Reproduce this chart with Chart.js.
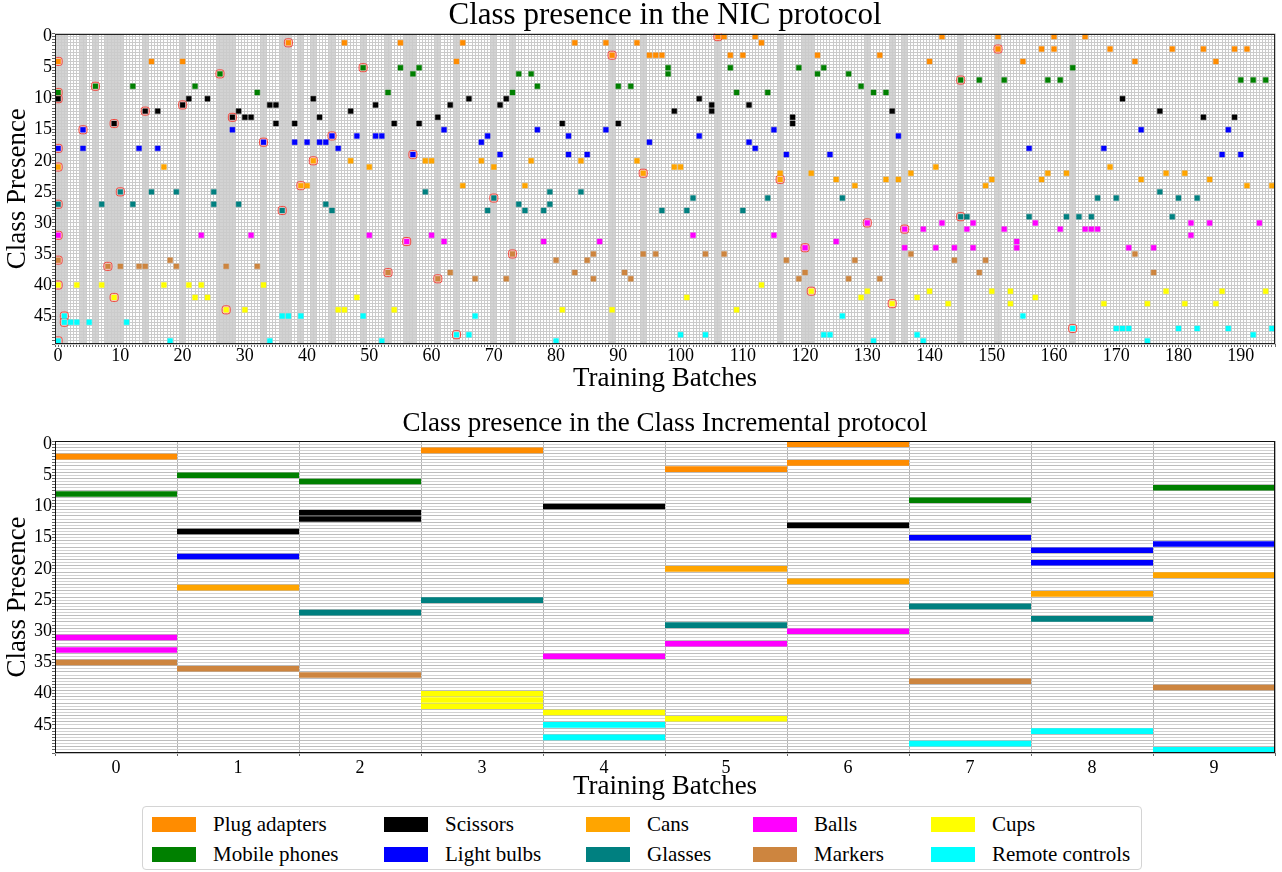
<!DOCTYPE html>
<html>
<head>
<meta charset="utf-8">
<script src="https://cdn.jsdelivr.net/npm/chart.js@4.4.1/dist/chart.umd.min.js"></script>
<style>
  html, body { margin: 0; padding: 0; background: #fff; }
  body { width: 1282px; height: 872px; position: relative; overflow: hidden;
         font-family: "Liberation Serif", "Times New Roman", serif; }
  #nicBox { position: absolute; left: 0; top: 0; width: 1282px; height: 392px; }
  #ciBox  { position: absolute; left: 0; top: 392px; width: 1282px; height: 410px; }
  #legend { position: absolute; left: 142px; top: 806px; width: 998px; height: 62px;
            border: 1px solid #d4d4d4; border-radius: 4px; box-sizing: content-box; }
  .sw  { position: absolute; width: 44px; height: 15px; }
  .lbl { position: absolute; font-size: 21px; line-height: 24px; white-space: nowrap; color: #000; }
</style>
</head>
<body>
<div id="nicBox"><canvas id="nicChart"></canvas></div>
<div id="ciBox"><canvas id="ciChart"></canvas></div>
<div id="legend"></div>
<script>
// ---------------------------------------------------------------
// data
// ---------------------------------------------------------------
const categories = ['Plug adapters', 'Mobile phones', 'Scissors', 'Light bulbs', 'Cans',
                    'Glasses', 'Balls', 'Markers', 'Cups', 'Remote controls'];

// NIC: for each class of a category (5 classes each), the batches it shows up in
const nicPlugAdapters = [
  [106,107,112,142,151,160,165],
  [37,46,55,65,83,88,93,113],
  [151,158,160,169,179,184,189,191],
  [89,95,96,97,108,110,122,132],
  [0,15,20,64,140,155,173,186]
];
const nicMobilePhones = [
  [49,55,58,98,108,119,123,163],
  [26,57,74,76,98,122,127],
  [145,148,152,159,161,190,192,194],
  [6,12,22,77,90,92,129],
  [0,32,53,73,109,114,131,133]
];
const nicScissors = [
  [0,21,24,41,66,72,103,171],
  [20,34,35,51,63,71,105,111],
  [14,16,29,47,99,105,134,177],
  [28,30,31,42,61,118,184,189],
  [9,35,38,54,58,81,90,118]
];
const nicLightBulbs = [
  [4,28,62,77,88,115,174,188],
  [44,48,51,52,69,82,103,135],
  [33,38,40,42,43,68,95,111],
  [0,4,13,16,45,112,156,168],
  [57,71,82,85,117,124,187,190]
];
const nicCans = [
  [41,47,59,60,68,76,84,93],
  [0,17,50,70,99,100,141,169],
  [94,116,121,137,159,162,178,181],
  [116,125,133,135,150,158,174,185],
  [39,40,65,75,128,149,191,195]
];
const nicGlasses = [
  [10,15,19,25,59,79,84,177],
  [70,102,114,126,167,170,180,183],
  [0,7,12,25,29,43,74,79],
  [36,44,69,75,78,97,101,110],
  [145,146,156,162,164,166,179]
];
const nicBalls = [
  [130,142,147,157,182,185,193],
  [136,139,146,152,161,165,166,167],
  [0,23,31,50,60,102,115,182],
  [56,62,78,87,125,154],
  [120,136,141,144,147,154,172,176]
];
const nicMarkers = [
  [73,86,94,96,104,107,137,173],
  [0,18,80,85,117,128,144,149],
  [8,10,13,14,19,27,32],
  [53,63,83,91,120,148,176],
  [61,67,72,86,92,119,127,132]
];
const nicCups = [
  [0,3,7,17,21,23,33,113],
  [121,130,140,150,153,178,187,194],
  [9,22,24,48,101,129,138,157],
  [134,143,153,168,175,181,186],
  [27,30,45,46,54,81,89,109]
];
const nicRemoteControls = [
  [1,36,37,39,49,67,126,155],
  [1,2,3,5,11],
  [163,170,171,172,180,183,188,195],
  [64,66,100,104,123,124,138,192],
  [0,18,34,52,80,131,139,175]
];

// Class Incremental: classes present in each of the 10 batches
const ciBatchClasses = [
  [2,8,31,33,35],
  [5,14,18,23,36],
  [6,11,12,27,37],
  [1,25,40,41,42],
  [10,34,43,45,47],
  [4,20,29,32,44],
  [0,3,13,22,30],
  [9,15,26,38,48],
  [17,19,24,28,46],
  [7,16,21,39,49]
];

// tick labels
const nicXTicks  = [0,10,20,30,40,50,60,70,80,90,100,110,120,130,140,150,160,170,180,190];
const ciXTicks   = [0,1,2,3,4,5,6,7,8,9];
const classTicks = [0,5,10,15,20,25,30,35,40,45];

// styles
const colors = ['#ff8c00','#008000','#000000','#0000ff','#ffa500',
                '#008080','#ff00ff','#cd853f','#ffff00','#00ffff'];

// ---------------------------------------------------------------
// helpers
// ---------------------------------------------------------------
Chart.defaults.font.family = '"Liberation Serif", "Times New Roman", serif';
Chart.defaults.color = '#000';

// grid every half unit (cell borders + centres)
function halfSteps(min, max){
  const t = [];
  for (let v = min; v <= max + 1e-9; v += 0.5) t.push({ value: v });
  return t;
}

// light grey columns behind the grid
const bandPlugin = {
  id: 'bands',
  beforeDraw(chart, args, opts){
    if (!opts || !opts.columns) return;
    const { ctx, chartArea: a, scales: { x } } = chart;
    ctx.save();
    ctx.fillStyle = opts.color;
    opts.columns.forEach(c => {
      const l = x.getPixelForValue(c - 0.5);
      const r = x.getPixelForValue(c + 0.5);
      ctx.fillRect(l, a.top, r - l, a.bottom - a.top);
    });
    ctx.restore();
  }
};

// axes box on all four sides
const framePlugin = {
  id: 'frame',
  afterDraw(chart, args, opts){
    const { ctx, chartArea: a } = chart;
    ctx.save();
    ctx.strokeStyle = opts.color || '#000';
    ctx.lineWidth = 1;
    const l = Math.round(a.left) + 0.5, t = Math.round(a.top) + 0.5;
    const r = Math.round(a.right) - 0.5, b = Math.round(a.bottom) - 0.5;
    ctx.strokeRect(l, t, r - l, b - t);
    ctx.restore();
  }
};

const tickFont  = { size: 18, lineHeight: 1 };
const titleFont = { size: 27, lineHeight: 1 };

// ---------------------------------------------------------------
// NIC chart
// ---------------------------------------------------------------
const nicByCategory = [nicPlugAdapters, nicMobilePhones, nicScissors, nicLightBulbs, nicCans,
                       nicGlasses, nicBalls, nicMarkers, nicCups, nicRemoteControls];

const nicDatasets = nicByCategory.map((classes, k) => ({
  label: categories[k],
  data: classes.flatMap((batches, j) => batches.map(b => ({ x: b, y: 5 * k + j }))),
  pointStyle: 'rect',
  pointRadius: 3.5,
  pointBorderWidth: 0.8,
  pointBackgroundColor: colors[k],
  pointBorderColor: colors[k] + '88',
  order: 0
}));

// first time each class appears -> red box, and its batch gets a grey band
const firstSeen = [];
nicByCategory.forEach((classes, k) => classes.forEach((batches, j) => {
  firstSeen.push({ x: Math.min(...batches), y: 5 * k + j });
}));
const newBatches = [...new Set(firstSeen.map(p => p.x))];

nicDatasets.push({
  label: 'new',
  data: firstSeen,
  pointStyle: 'rectRounded',
  pointRadius: 4.7,
  pointBorderWidth: 0.9,
  pointBackgroundColor: 'rgba(255,215,215,0.75)',
  pointBorderColor: '#f03a30',
  order: 1
});

new Chart(document.getElementById('nicChart'), {
  type: 'scatter',
  data: { datasets: nicDatasets },
  plugins: [bandPlugin, framePlugin],
  options: {
    responsive: true,
    maintainAspectRatio: false,
    animation: false,
    events: [],
    layout: { padding: { left: 0, right: 7, top: 0, bottom: 0 } },
    plugins: {
      legend: { display: false },
      tooltip: { enabled: false },
      title: {
        display: true,
        fullSize: false,
        text: 'Class presence in the NIC protocol',
        color: '#000',
        font: { size: 31, weight: 'normal', lineHeight: 1 },
        padding: { top: 0, bottom: 2.5 }
      },
      bands: { columns: newBatches, color: '#d3d3d3' },
      frame: { color: '#222' }
    },
    scales: {
      x: {
        type: 'linear',
        min: -0.5, max: 195.5,
        afterBuildTicks: s => { s.ticks = halfSteps(-0.5, 195.5); },
        afterFit: s => { s.height = 48; },
        ticks: {
          autoSkip: false, maxRotation: 0, minRotation: 0, padding: 0, font: tickFont,
          callback: v => nicXTicks.includes(v) ? String(v) : ''
        },
        grid: { color: '#cbcbcb', tickColor: '#666', tickLength: 3 },
        border: { display: false },
        title: { display: true, text: 'Training Batches', font: titleFont, padding: { top: 0, bottom: 0 } }
      },
      y: {
        type: 'linear',
        reverse: true,
        min: -0.5, max: 49.5,
        afterBuildTicks: s => { s.ticks = halfSteps(-0.5, 49.5); },
        afterFit: s => { s.width = 55; },
        ticks: {
          autoSkip: false, padding: 0, font: tickFont,
          callback: v => classTicks.includes(v) ? String(v) : ''
        },
        grid: { color: '#cbcbcb', tickColor: '#666', tickLength: 3 },
        border: { display: false },
        title: { display: true, text: 'Class Presence', font: titleFont, padding: { top: 4.5, bottom: 0 } }
      }
    }
  }
});

// ---------------------------------------------------------------
// Class Incremental chart
// ---------------------------------------------------------------
const ciDatasets = categories.map((name, k) => {
  const data = [];
  ciBatchClasses.forEach((classes, b) => {
    classes.filter(c => Math.floor(c / 5) === k).forEach(c => {
      data.push({ x: b - 0.5, y: c }, { x: b + 0.5, y: c }, { x: b + 0.5, y: null });
    });
  });
  return {
    label: name,
    data,
    borderColor: colors[k],
    borderWidth: 5.6,
    borderCapStyle: 'butt',
    pointRadius: 0,
    spanGaps: false,
    tension: 0
  };
});

new Chart(document.getElementById('ciChart'), {
  type: 'line',
  data: { datasets: ciDatasets },
  plugins: [framePlugin],
  options: {
    responsive: true,
    maintainAspectRatio: false,
    animation: false,
    events: [],
    layout: { padding: { left: 0, right: 7, top: 0, bottom: 0 } },
    plugins: {
      legend: { display: false },
      tooltip: { enabled: false },
      title: {
        display: true,
        fullSize: false,
        text: 'Class presence in the Class Incremental protocol',
        color: '#000',
        font: { size: 27, weight: 'normal', lineHeight: 1 },
        padding: { top: 18.5, bottom: 3.5 }
      },
      frame: { color: '#111' }
    },
    scales: {
      x: {
        type: 'linear',
        min: -0.5, max: 9.5,
        afterBuildTicks: s => { s.ticks = halfSteps(-0.5, 9.5); },
        afterFit: s => { s.height = 49; },
        ticks: {
          autoSkip: false, maxRotation: 0, minRotation: 0, padding: 3, font: tickFont,
          callback: v => ciXTicks.includes(v) ? String(v) : ''
        },
        grid: {
          color: c => Number.isInteger(c.tick.value) ? 'rgba(0,0,0,0)' : '#b4b4b4',
          tickColor: c => Number.isInteger(c.tick.value) ? 'rgba(0,0,0,0)' : '#666',
          tickLength: 3
        },
        border: { display: false },
        title: { display: true, text: 'Training Batches', font: titleFont, padding: { top: 0, bottom: 1.5 } }
      },
      y: {
        type: 'linear',
        reverse: true,
        min: -0.5, max: 49.5,
        afterBuildTicks: s => { s.ticks = halfSteps(-0.5, 49.5); },
        afterFit: s => { s.width = 55; },
        ticks: {
          autoSkip: false, padding: 0, font: tickFont,
          callback: v => classTicks.includes(v) ? String(v) : ''
        },
        grid: {
          color: c => Number.isInteger(c.tick.value) ? '#d2d2d2' : '#bdbdbd',
          tickColor: '#666', tickLength: 3
        },
        border: { display: false },
        title: { display: true, text: 'Class Presence', font: titleFont, padding: { top: 4.5, bottom: 0 } }
      }
    }
  }
});

// ---------------------------------------------------------------
// shared legend (2 rows, filled column by column)
// ---------------------------------------------------------------
const legend = document.getElementById('legend');
const colLeft = [9, 241, 443, 610, 788];
const rowTop  = [10, 40];
categories.forEach((name, i) => {
  const col = Math.floor(i / 2), row = i % 2;
  const sw = document.createElement('div');
  sw.className = 'sw';
  sw.style.left = colLeft[col] + 'px';
  sw.style.top = rowTop[row] + 'px';
  sw.style.background = colors[i];
  legend.appendChild(sw);
  const lbl = document.createElement('div');
  lbl.className = 'lbl';
  lbl.style.left = (colLeft[col] + 61) + 'px';
  lbl.style.top = (rowTop[row] - 5) + 'px';
  lbl.textContent = name;
  legend.appendChild(lbl);
});
</script>
</body>
</html>
